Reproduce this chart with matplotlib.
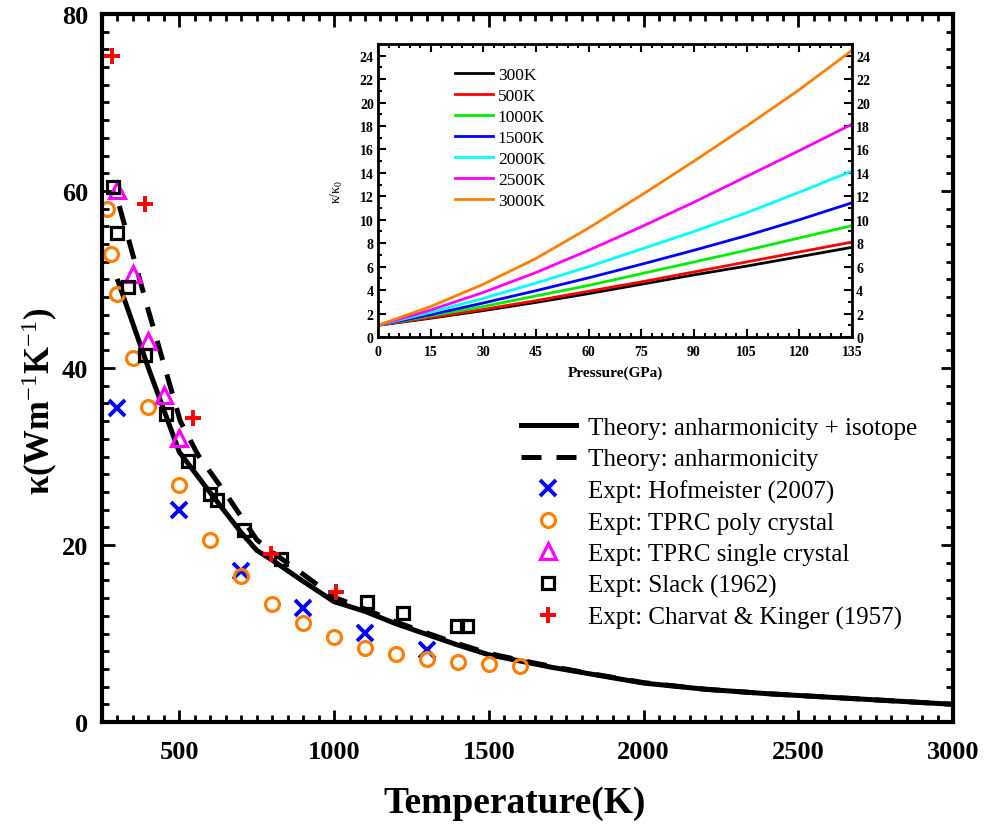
import matplotlib
matplotlib.use("Agg")
import matplotlib.pyplot as plt
import numpy as np

plt.rcParams['font.family'] = ['Liberation Serif', 'DejaVu Serif']
plt.rcParams['mathtext.fontset'] = 'custom'
plt.rcParams['mathtext.rm'] = 'Liberation Serif:bold'
plt.rcParams['mathtext.bf'] = 'Liberation Serif:bold'
plt.rcParams['mathtext.it'] = 'Liberation Serif:bold'

# ---- main data ----
theory_T = [302, 400, 500, 600, 700, 750, 800, 900, 1000, 1100, 1200, 1300, 1400, 1500,
            1600, 1700, 1800, 2000, 2200, 2400, 2600, 2800, 3000]
theory_iso = [49.8, 40.0, 30.5, 25.9, 21.4, 19.4, 18.3, 15.9, 13.6, 12.5, 11.1, 9.9, 8.7, 7.6,
              6.9, 6.2, 5.6, 4.4, 3.7, 3.2, 2.8, 2.4, 2.0]
anh_T = [306, 400, 503, 560, 650, 750, 800, 900, 1000, 1100, 1200, 1300, 1400, 1500,
         1600, 1700, 1800, 2000, 2200, 2400, 2600, 2800, 3000]
anh_k = [58.3, 46.5, 34.0, 30.2, 25.8, 20.6, 19.2, 16.7, 14.1, 12.75, 11.3, 10.05, 8.85, 7.75,
         7.0, 6.3, 5.65, 4.45, 3.7, 3.2, 2.8, 2.4, 2.0]

hof_T = [300, 500, 700, 900, 1100, 1300]
hof_k = [35.5, 24.0, 17.1, 12.9, 10.1, 8.1]

poly_T = [266, 279, 300, 350, 400, 500, 600, 700, 800, 900, 1000, 1100, 1200, 1300, 1400, 1500, 1600]
poly_k = [58.0, 52.9, 48.4, 41.1, 35.6, 26.8, 20.6, 16.5, 13.3, 11.2, 9.6, 8.4, 7.7, 7.1, 6.8, 6.5, 6.3]

single_T = [300, 350, 400, 450, 500]
single_k = [60.1, 50.6, 43.1, 37.0, 32.1]

slack_T = [286, 300, 335, 389, 456, 528, 599, 621, 709, 828, 1107, 1224, 1398, 1430]
slack_k = [60.5, 55.3, 49.2, 41.5, 34.8, 29.5, 25.8, 25.1, 21.7, 18.4, 13.6, 12.3, 10.8, 10.8]

charvat_T = [281, 389, 543, 795, 1005]
charvat_k = [75.2, 58.5, 34.4, 19.0, 14.7]

# ---- inset data ----
pressure = [0, 15, 30, 45, 60, 75, 90, 105, 120, 135]
inset_labels = ['300K', '500K', '1000K', '1500K', '2000K', '2500K', '3000K']
inset_colors = ['black', 'red', '#00ee00', 'blue', 'cyan', 'magenta', '#ff8000']
ratio_300 = [1.0, 1.6, 2.25, 2.95, 3.7, 4.5, 5.3, 6.05, 6.85, 7.65]
ratio_500 = [1.0, 1.65, 2.35, 3.1, 3.9, 4.7, 5.55, 6.4, 7.25, 8.1]
ratio_1000 = [1.0, 1.8, 2.6, 3.5, 4.4, 5.4, 6.4, 7.4, 8.45, 9.5]
ratio_1500 = [1.0, 1.9, 2.9, 3.95, 5.05, 6.2, 7.4, 8.65, 10.0, 11.45]
ratio_2000 = [1.0, 2.1, 3.3, 4.6, 6.0, 7.5, 9.0, 10.6, 12.35, 14.15]
ratio_2500 = [1.0, 2.3, 3.8, 5.5, 7.4, 9.4, 11.5, 13.7, 15.9, 18.15]
ratio_3000 = [1.0, 2.6, 4.5, 6.7, 9.3, 12.1, 15.0, 18.0, 21.1, 24.45]
inset_series = [ratio_300, ratio_500, ratio_1000, ratio_1500, ratio_2000, ratio_2500, ratio_3000]

fig = plt.figure(figsize=(9.9, 8.28), dpi=100)
ax = fig.add_axes([0.103, 0.1268, 0.8596, 0.8551])

ax.plot(theory_T, theory_iso, color='black', lw=3.6, label='Theory: anharmonicity + isotope')
ax.plot(anh_T, anh_k, color='black', lw=3.6, ls=(0, (4, 3)), label='Theory: anharmonicity')
ax.plot(hof_T, hof_k, ls='none', marker='x', ms=12, mew=2.8, color='blue',
        label='Expt: Hofmeister (2007)')
ax.plot(poly_T, poly_k, ls='none', marker='o', ms=10, mew=2.3, mfc='none', color='#ff8000',
        label='Expt: TPRC poly crystal')
ax.plot(single_T, single_k, ls='none', marker='^', ms=12, mew=2.3, mfc='none', color='magenta',
        label='Expt: TPRC single crystal')
ax.plot(slack_T, slack_k, ls='none', marker='s', ms=9, mew=2.3, mfc='none', color='black',
        label='Expt: Slack (1962)')
ax.plot(charvat_T, charvat_k, ls='none', marker='+', ms=12, mew=2.8, color='red',
        label='Expt: Charvat & Kinger (1957)')

ax.set_xlim(250, 3000)
ax.set_ylim(0, 80)
ax.set_xticks([500, 1000, 1500, 2000, 2500, 3000])
ax.set_xticks(np.arange(250, 3001, 50), minor=True)
ax.set_yticks([0, 20, 40, 60, 80])
ax.set_yticks(np.arange(0, 81, 2), minor=True)
for s in ax.spines.values():
    s.set_linewidth(3)
ax.tick_params(which='both', direction='in', top=True, right=True, width=2)
ax.tick_params(which='major', length=9, labelsize=19)
ax.tick_params(axis='x', which='major', pad=13)
ax.tick_params(axis='y', which='major', pad=10)
ax.tick_params(which='minor', length=5)
for lab in ax.get_xticklabels() + ax.get_yticklabels():
    lab.set_fontweight('bold')
ax.set_xlabel('Temperature(K)', fontsize=27, fontweight='bold', va='top')
ax.xaxis.set_label_coords(0.485, -0.089)
ax.set_ylabel(r'κ(Wm$^{-1}$K$^{-1}$)', fontsize=25, fontweight='bold', va='center')
ax.yaxis.set_label_coords(-0.073, 0.455)

leg = ax.legend(loc='lower right', bbox_to_anchor=(0.985, 0.10), frameon=False, fontsize=18,
                handlelength=2.2, handletextpad=0.5, labelspacing=0.35, numpoints=1)

# ---- inset ----
ins = fig.add_axes([0.3818, 0.5918, 0.4788, 0.3539])
for lab, col, ser in zip(inset_labels, inset_colors, inset_series):
    ins.plot(pressure, ser, color=col, lw=2, label=lab)
ins.set_xlim(0, 135)
ins.set_ylim(0, 25)
ins.set_xticks(np.arange(0, 136, 15))
ins.set_xticks(np.arange(0, 136, 3), minor=True)
ins.set_yticks(np.arange(0, 25, 2))
ins.set_yticks(np.arange(0, 26, 1), minor=True)
for s in ins.spines.values():
    s.set_linewidth(2)
ins.tick_params(which='both', direction='in', top=True, right=True, labelright=True, width=1.5)
ins.tick_params(which='major', length=6, labelsize=10)
ins.tick_params(axis='x', which='major', pad=6)
ins.tick_params(axis='y', which='major', pad=3)
ins.tick_params(which='minor', length=3)
for lab in ins.get_xticklabels():
    lab.set_fontweight('bold')
for lab in ins.yaxis.get_ticklabels(which='both'):
    lab.set_fontweight('bold')
for t in ins.yaxis.get_major_ticks():
    t.label2.set_fontweight('bold')
ins.set_xlabel('Pressure(GPa)', fontsize=11, fontweight='bold', labelpad=5)
plt.rcParams['mathtext.rm'] = 'Liberation Serif'
ins.set_ylabel(r'κ/κ$_0$', fontsize=10, fontweight='normal', labelpad=11)
ins.legend(loc='upper left', bbox_to_anchor=(0.13, 0.975), frameon=False, fontsize=12.5,
           handlelength=2.2, handletextpad=0.25, labelspacing=0.28)

fig.savefig('out.png', dpi=100)
